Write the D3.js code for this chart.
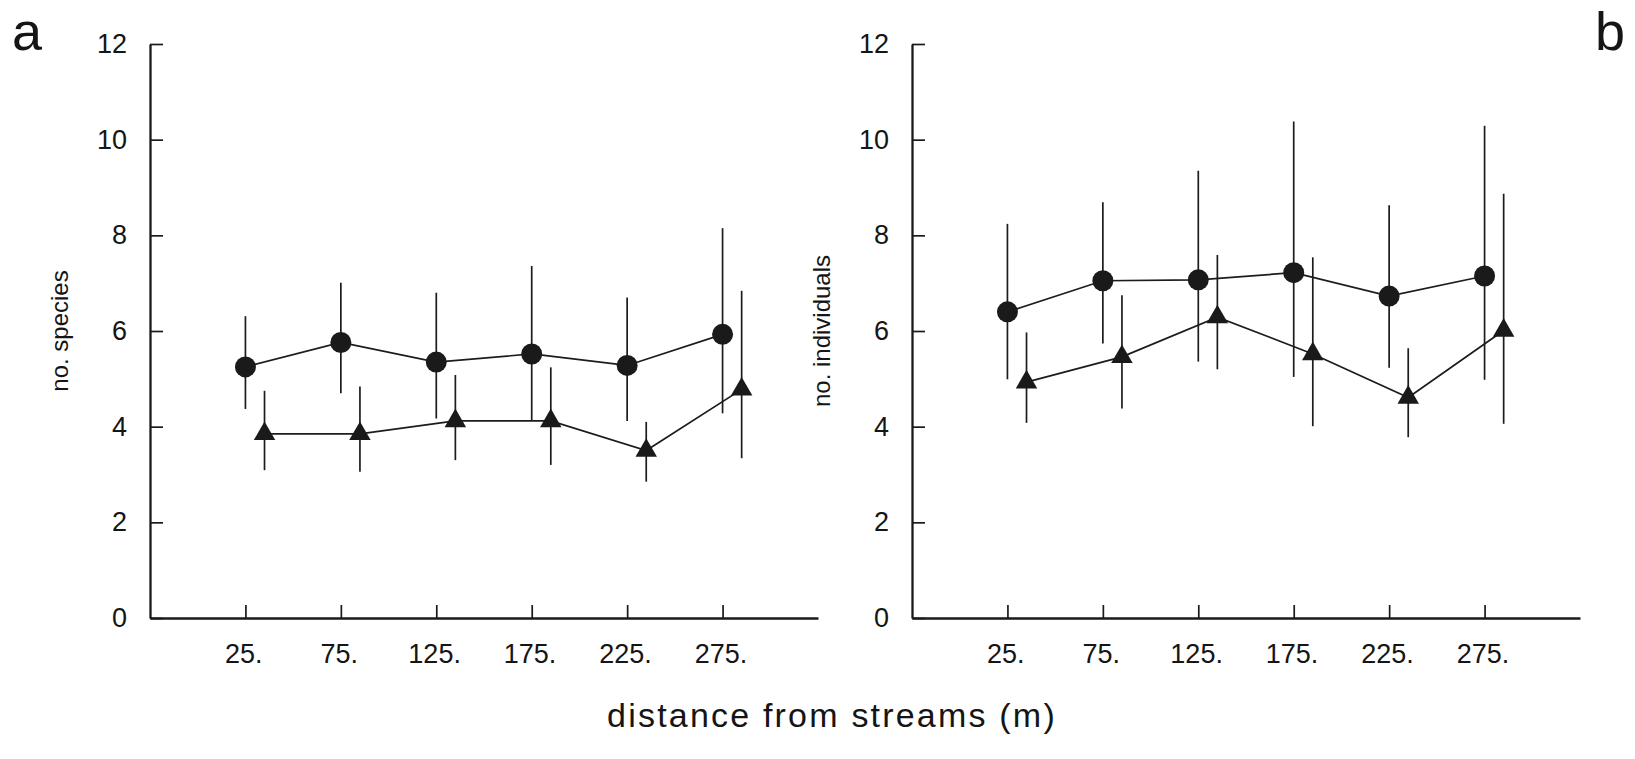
<!DOCTYPE html>
<html>
<head>
<meta charset="utf-8">
<script src="https://cdn.jsdelivr.net/npm/d3@7"></script>
<style>
  html, body { margin: 0; padding: 0; background: #fff; }
  svg { display: block; }
  text { font-family: "Liberation Sans", Arial, sans-serif; fill: #151515; }
</style>
</head>
<body>
<div id="chart"></div>
<script>
// distances (m) along the x axis
var distances = [25, 75, 125, 175, 225, 275];
var tickLabels = ["25.", "75.", "125.", "175.", "225.", "275."];
var yTicks = [0, 2, 4, 6, 8, 10, 12];

// panel a - no. species
var speciesCircle   = [5.25, 5.76, 5.35, 5.52, 5.28, 5.93];
var speciesCircleLo = [4.37, 4.70, 4.17, 4.12, 4.12, 4.28];
var speciesCircleHi = [6.31, 7.01, 6.80, 7.36, 6.70, 8.15];
var speciesTri      = [3.85, 3.85, 4.12, 4.12, 3.50, 4.78];
var speciesTriLo    = [3.09, 3.06, 3.30, 3.20, 2.85, 3.34];
var speciesTriHi    = [4.75, 4.84, 5.08, 5.24, 4.10, 6.84];

// panel b - no. individuals
var indivCircle   = [6.40, 7.05, 7.07, 7.22, 6.73, 7.15];
var indivCircleLo = [4.99, 5.74, 5.36, 5.04, 5.23, 4.98];
var indivCircleHi = [8.24, 8.69, 9.35, 10.38, 8.63, 10.29];
var indivTri      = [4.93, 5.46, 6.29, 5.52, 4.61, 6.01];
var indivTriLo    = [4.08, 4.38, 5.20, 4.01, 3.78, 4.06];
var indivTriHi    = [5.97, 6.75, 7.59, 7.54, 5.64, 8.87];

var svgWidth = 1635;
var svgHeight = 759;
var triShift = 10; // triangles sit a little right of the circles

var svg = d3.select("#chart")
    .append("svg")
    .attr("width", svgWidth)
    .attr("height", svgHeight);

function makeRows(mean, lo, hi, shift) {
    return distances.map(function(d, i) {
        return { x: d + shift, y: mean[i], lo: lo[i], hi: hi[i] };
    });
}

function drawPanel(left, title, circles, tris) {
    var xScale = d3.scaleLinear().domain([-25, 325]).range([left, left + 668]);
    var yScale = d3.scaleLinear().domain([0, 12]).range([618, 44]);

    var g = svg.append("g");

    // y axis, ticks point inward
    var leftAxis = d3.axisLeft(yScale)
        .tickValues(yTicks)
        .tickSizeInner(-13)
        .tickSizeOuter(0)
        .tickPadding(23);
    var yAxisG = g.append("g")
        .attr("transform", `translate(${left}, 0)`)
        .call(leftAxis);

    var bottomAxis = d3.axisBottom(xScale)
        .tickValues(distances)
        .tickFormat(function(d, i) { return tickLabels[i]; })
        .tickSizeInner(-13)
        .tickSizeOuter(0)
        .tickPadding(26);
    var xAxisG = g.append("g")
        .attr("transform", `translate(0, 618)`)
        .call(bottomAxis);

    [yAxisG, xAxisG].forEach(function(ax) {
        ax.select(".domain").attr("stroke", "#1a1a1a").attr("stroke-width", 2.3);
        ax.selectAll(".tick line").attr("stroke", "#1a1a1a").attr("stroke-width", 1.7);
        ax.selectAll(".tick text")
            .attr("font-size", 27)
            .attr("font-family", "Liberation Sans, Arial, sans-serif")
            .attr("fill", "#151515");
    });
    xAxisG.selectAll(".tick text").attr("dx", "-0.08em");

    // axis title
    g.append("text")
        .attr("transform", `translate(${left - 82}, ${yScale(6)}) rotate(-90)`)
        .attr("text-anchor", "middle")
        .attr("font-size", 24)
        .text(title);

    var both = [circles, tris];

    // error bars
    both.forEach(function(rows) {
        g.append("g")
            .selectAll("line")
            .data(rows)
            .enter()
            .append("line")
            .attr("x1", d => xScale(d.x))
            .attr("x2", d => xScale(d.x))
            .attr("y1", d => yScale(d.lo))
            .attr("y2", d => yScale(d.hi))
            .attr("stroke", "#1c1c1c")
            .attr("stroke-width", 1.7);
    });

    // connecting lines
    var line = d3.line()
        .x(d => xScale(d.x))
        .y(d => yScale(d.y));
    both.forEach(function(rows) {
        g.append("path")
            .datum(rows)
            .attr("d", line)
            .attr("fill", "none")
            .attr("stroke", "#1c1c1c")
            .attr("stroke-width", 1.7);
    });

    // markers
    g.append("g")
        .selectAll("circle")
        .data(circles)
        .enter()
        .append("circle")
        .attr("cx", d => xScale(d.x))
        .attr("cy", d => yScale(d.y))
        .attr("r", 10.5)
        .attr("fill", "#1a1a1a");

    var tri = d3.symbol().type(d3.symbolTriangle).size(200);
    g.append("g")
        .selectAll("path")
        .data(tris)
        .enter()
        .append("path")
        .attr("d", tri)
        .attr("transform", d => `translate(${xScale(d.x)}, ${yScale(d.y)})`)
        .attr("fill", "#1a1a1a");
}

drawPanel(150, "no. species",
    makeRows(speciesCircle, speciesCircleLo, speciesCircleHi, 0),
    makeRows(speciesTri, speciesTriLo, speciesTriHi, triShift));

drawPanel(912, "no. individuals",
    makeRows(indivCircle, indivCircleLo, indivCircleHi, 0),
    makeRows(indivTri, indivTriLo, indivTriHi, triShift));

// panel letters
svg.append("text")
    .attr("x", 12)
    .attr("y", 50)
    .attr("font-size", 54)
    .text("a");

svg.append("text")
    .attr("x", 1595)
    .attr("y", 50)
    .attr("font-size", 54)
    .text("b");

// shared x axis title
svg.append("text")
    .attr("x", 832)
    .attr("y", 727)
    .attr("text-anchor", "middle")
    .attr("font-size", 34)
    .attr("letter-spacing", 2.2)
    .text("distance from streams (m)");
</script>
</body>
</html>
